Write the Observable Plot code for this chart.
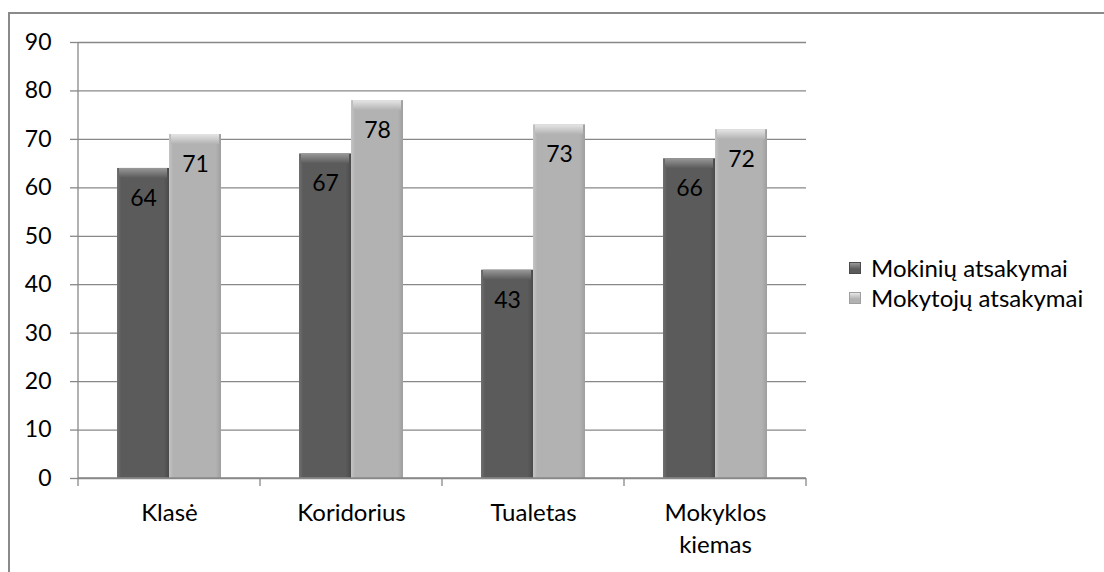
<!DOCTYPE html>
<html>
<head>
<meta charset="utf-8">
<script src="https://cdn.jsdelivr.net/npm/d3@7"></script>
<script src="https://cdn.jsdelivr.net/npm/@observablehq/plot@0.6"></script>
<style>
  html, body { margin: 0; padding: 0; background: #fff; }
  #wrap { position: relative; width: 1104px; height: 572px; overflow: hidden; font-family: Lato, "Open Sans", sans-serif; }
  #border { position: absolute; left: 8px; top: 12px; width: 1200px; height: 700px; border-top: 2px solid #8a8a8a; border-left: 2px solid #8a8a8a; box-sizing: border-box; }
  #chart { position: absolute; left: 0; top: 0; }
  .legend { position: absolute; left: 849px; font-size: 24px; color: #000; display: flex; align-items: center; white-space: nowrap; line-height: 28px; }
  .legend .sw { width: 12px; height: 12px; margin-right: 10px; box-sizing: border-box; }
</style>
</head>
<body>
<div id="wrap">
  <div id="border"></div>
  <div id="chart"></div>
  <div id="legend"></div>
</div>
<script>
// ---- data ----
const categories = ["Klasė", "Koridorius", "Tualetas", "Mokyklos\nkiemas"];
const seriesNames = ["Mokinių atsakymai", "Mokytojų atsakymai"];
const mokiniuValues = [64, 67, 43, 66];
const mokytojuValues = [71, 78, 73, 72];
const yTicks = [0, 10, 20, 30, 40, 50, 60, 70, 80, 90];

const seriesValues = [mokiniuValues, mokytojuValues];
const data = [];
categories.forEach((c, i) => {
  seriesNames.forEach((s, j) => data.push({category: c, series: s, value: seriesValues[j][i]}));
});

const gradIds = ["gDark", "gLight"];
const bevelIds = ["bDark", "bLight"];
const baseColors = ["#5b5b5b", "#b2b2b2"];
const edgeColors = ["#707070", "#c4c4c4"];
const shadeColors = ["#4a4a4a", "#9e9e9e"];
const topColors = ["#999999", "#e6e6e6"];

const defs = () => {
  const d = d3.create("svg:defs");
  baseColors.forEach((c, k) => {
    const g = d.append("linearGradient").attr("id", gradIds[k]).attr("x1", 0).attr("x2", 1).attr("y1", 0).attr("y2", 0);
    g.append("stop").attr("offset", "0%").attr("stop-color", edgeColors[k]);
    g.append("stop").attr("offset", "8%").attr("stop-color", c);
    g.append("stop").attr("offset", "90%").attr("stop-color", c);
    g.append("stop").attr("offset", "100%").attr("stop-color", shadeColors[k]);
    const b = d.append("linearGradient").attr("id", bevelIds[k]).attr("x1", 0).attr("x2", 0).attr("y1", 0).attr("y2", 1);
    b.append("stop").attr("offset", "0%").attr("stop-color", topColors[k]);
    b.append("stop").attr("offset", "100%").attr("stop-color", c);
  });
  return d.node();
};

const fontFamily = "Lato, 'Open Sans', sans-serif";
const gridColor = "#888888";

const marks = [defs];
seriesNames.forEach((s, k) => {
  const sub = data.filter(d => d.series === s);
  marks.push(Plot.barY(sub, {fx: "category", x: "series", y: "value", fill: `url(#${gradIds[k]})`}));
  marks.push(Plot.barY(sub, {fx: "category", x: "series", y1: "value", y2: "value", insetBottom: -10, insetLeft: 2, insetRight: 2, fill: `url(#${bevelIds[k]})`}));
});
marks.push(Plot.text(data, {fx: "category", x: "series", y: "value", text: d => String(d.value), dy: 30, fontSize: 23, fill: "#000", fontFamily}));

const plot = Plot.plot({
  width: 1104,
  height: 572,
  marginLeft: 77,
  marginRight: 297,
  marginTop: 42,
  marginBottom: 94,
  style: {fontFamily, fontSize: "23px", color: "#000", background: "transparent"},
  fx: {domain: categories, padding: 0, label: null, axis: null},
  x: {domain: seriesNames, axis: null, paddingInner: 0, paddingOuter: 0.74},
  y: {domain: [0, 90], axis: null},
  marks: [
    Plot.gridY(yTicks, {stroke: gridColor, strokeOpacity: 1, strokeWidth: 1.3}),
    ...marks,
    Plot.axisY(yTicks, {tickSize: 8, tickPadding: 19, stroke: gridColor, strokeWidth: 1.3, strokeOpacity: 1, label: null, fontSize: 23}),
    Plot.text(categories, {fx: d => d, text: d => d, frameAnchor: "bottom", lineAnchor: "top", dy: 20, lineHeight: 1.32, fontSize: 24, fill: "#000", fontFamily})
  ]
});

document.getElementById("chart").appendChild(plot);

// axis line, baseline and category boundary ticks from the scales
const fx = plot.scale("fx");
const ys = plot.scale("y");
const svg = d3.select(plot);
const x0 = fx.apply(categories[0]);
const x1 = fx.apply(categories[categories.length - 1]) + fx.bandwidth;
const y0 = ys.apply(0), yTop = ys.apply(90);
const g = svg.append("g").attr("stroke", gridColor).attr("stroke-width", 1.3);
g.append("line").attr("x1", x0).attr("x2", x0).attr("y1", yTop).attr("y2", y0);
g.append("line").attr("x1", x0).attr("x2", x1).attr("y1", y0).attr("y2", y0);
const bounds = categories.map(c => fx.apply(c)).concat([x1]);
bounds.forEach(b => g.append("line").attr("x1", b).attr("x2", b).attr("y1", y0).attr("y2", y0 + 8));

// legend
const legend = document.getElementById("legend");
const legendTop = [268, 298];
seriesNames.forEach((s, k) => {
  const row = document.createElement("div");
  row.className = "legend";
  row.style.top = (legendTop[k] - 14) + "px";
  const sw = document.createElement("div");
  sw.className = "sw";
  sw.style.background = `linear-gradient(to bottom, ${topColors[k]} 0%, ${baseColors[k]} 60%)`;
  sw.style.border = `1px solid ${shadeColors[k]}`;
  const t = document.createElement("span");
  t.textContent = s;
  row.appendChild(sw);
  row.appendChild(t);
  legend.appendChild(row);
});
</script>
</body>
</html>
